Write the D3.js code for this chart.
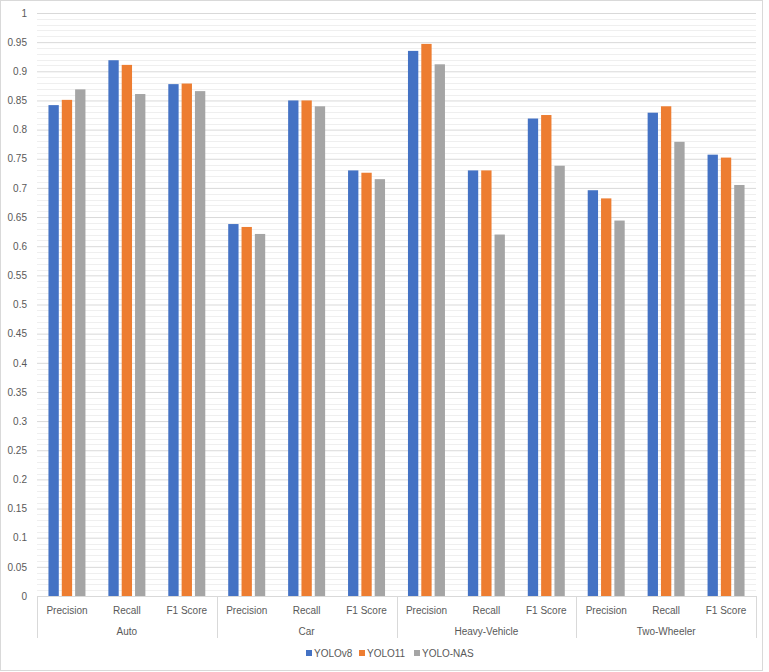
<!DOCTYPE html>
<html>
<head>
<meta charset="utf-8">
<script src="https://cdn.jsdelivr.net/npm/d3@7"></script>
<style>
  body { margin: 0; background: #fff; }
  text { font-family: "Liberation Sans", Arial, sans-serif; fill: #595959; }
</style>
</head>
<body>
<svg id="chart" width="769" height="672"></svg>
<script>
const groups = ["Auto", "Car", "Heavy-Vehicle", "Two-Wheeler"];
const metrics = ["Precision", "Recall", "F1 Score"];
const seriesNames = ["YOLOv8", "YOLO11", "YOLO-NAS"];
const seriesColors = ["#4472C4", "#ED7D31", "#A5A5A5"];

// values in order group x metric
const yolov8 = [0.842, 0.919, 0.878, 0.638, 0.850, 0.730, 0.935, 0.730, 0.819, 0.696, 0.829, 0.757];
const yolo11 = [0.851, 0.911, 0.879, 0.633, 0.850, 0.726, 0.947, 0.730, 0.825, 0.682, 0.840, 0.752];
const yoloNas = [0.869, 0.861, 0.866, 0.621, 0.840, 0.715, 0.912, 0.620, 0.738, 0.644, 0.779, 0.705];

const yTicks = [0, 0.05, 0.1, 0.15, 0.2, 0.25, 0.3, 0.35, 0.4, 0.45, 0.5, 0.55, 0.6, 0.65, 0.7, 0.75, 0.8, 0.85, 0.9, 0.95, 1];

const svg = d3.select("#chart");
const plotLeft = 37, plotRight = 756, plotTop = 13, plotBottom = 596;

const cats = [];
groups.forEach(g => metrics.forEach(m => cats.push(g + "|" + m)));
const values = [yolov8, yolo11, yoloNas];

const x0 = d3.scaleBand().domain(cats).range([plotLeft, plotRight]);
const x1 = d3.scaleBand().domain(seriesNames).range([0, x0.bandwidth()])
    .paddingInner(0.225).paddingOuter(0.86);
const y = d3.scaleLinear().domain([0, 1]).range([plotBottom, plotTop]);

// outer chart border
svg.append("rect")
    .attr("x", 0.5).attr("y", 0.5)
    .attr("width", 762).attr("height", 670)
    .attr("fill", "none").attr("stroke", "#D9D9D9");

// minor gridlines
svg.append("g")
    .selectAll("line")
    .data(d3.range(1, 100).filter(i => i % 5 !== 0).map(i => i / 100))
    .enter().append("line")
    .attr("x1", plotLeft).attr("x2", plotRight)
    .attr("y1", d => Math.round(y(d)) + 0.5)
    .attr("y2", d => Math.round(y(d)) + 0.5)
    .attr("stroke", "#EFEFEF");

// major gridlines + labels
const yAxis = svg.append("g")
    .attr("transform", "translate(" + plotLeft + ",0)")
    .call(d3.axisLeft(y).tickValues(yTicks).tickSize(-(plotRight - plotLeft)).tickPadding(10)
        .tickFormat(d => String(+d.toFixed(2))));
yAxis.select(".domain").remove();
yAxis.selectAll(".tick line").attr("stroke", "#D9D9D9");
yAxis.selectAll(".tick text").attr("font-size", 10).style("fill", "#595959")
    .attr("font-family", "Liberation Sans, Arial, sans-serif");

// bars
cats.forEach((c, ci) => {
    seriesNames.forEach((s, si) => {
        svg.append("rect")
            .attr("x", x0(c) + x1(s))
            .attr("y", y(values[si][ci]))
            .attr("width", x1.bandwidth())
            .attr("height", plotBottom - y(values[si][ci]))
            .attr("fill", seriesColors[si]);
    });
});

// category axis
svg.append("line")
    .attr("x1", plotLeft).attr("x2", plotRight)
    .attr("y1", plotBottom + 0.5).attr("y2", plotBottom + 0.5)
    .attr("stroke", "#D9D9D9");

const groupBand = d3.scaleBand().domain(groups).range([plotLeft, plotRight]);
svg.append("g").selectAll("line")
    .data(groups.concat(["end"]))
    .enter().append("line")
    .attr("x1", (d, i) => Math.round(plotLeft + i * groupBand.bandwidth()) + 0.5)
    .attr("x2", (d, i) => Math.round(plotLeft + i * groupBand.bandwidth()) + 0.5)
    .attr("y1", plotBottom).attr("y2", 638)
    .attr("stroke", "#D9D9D9");

svg.append("g").selectAll("text")
    .data(cats)
    .enter().append("text")
    .attr("x", d => x0(d) + x0.bandwidth() / 2)
    .attr("y", 614)
    .attr("text-anchor", "middle")
    .attr("font-size", 10)
    .text(d => d.split("|")[1]);

svg.append("g").selectAll("text")
    .data(groups)
    .enter().append("text")
    .attr("x", d => groupBand(d) + groupBand.bandwidth() / 2)
    .attr("y", 635)
    .attr("text-anchor", "middle")
    .attr("font-size", 10)
    .text(d => d);

// legend
const legendX = [306, 359, 414];
const legend = svg.append("g").selectAll("g")
    .data(seriesNames)
    .enter().append("g")
    .attr("transform", (d, i) => "translate(" + legendX[i] + ",650)");
legend.append("rect")
    .attr("width", 6).attr("height", 6)
    .attr("fill", (d, i) => seriesColors[i]);
legend.append("text")
    .attr("x", 8).attr("y", 7)
    .attr("font-size", 10)
    .text(d => d);
</script>
</body>
</html>
